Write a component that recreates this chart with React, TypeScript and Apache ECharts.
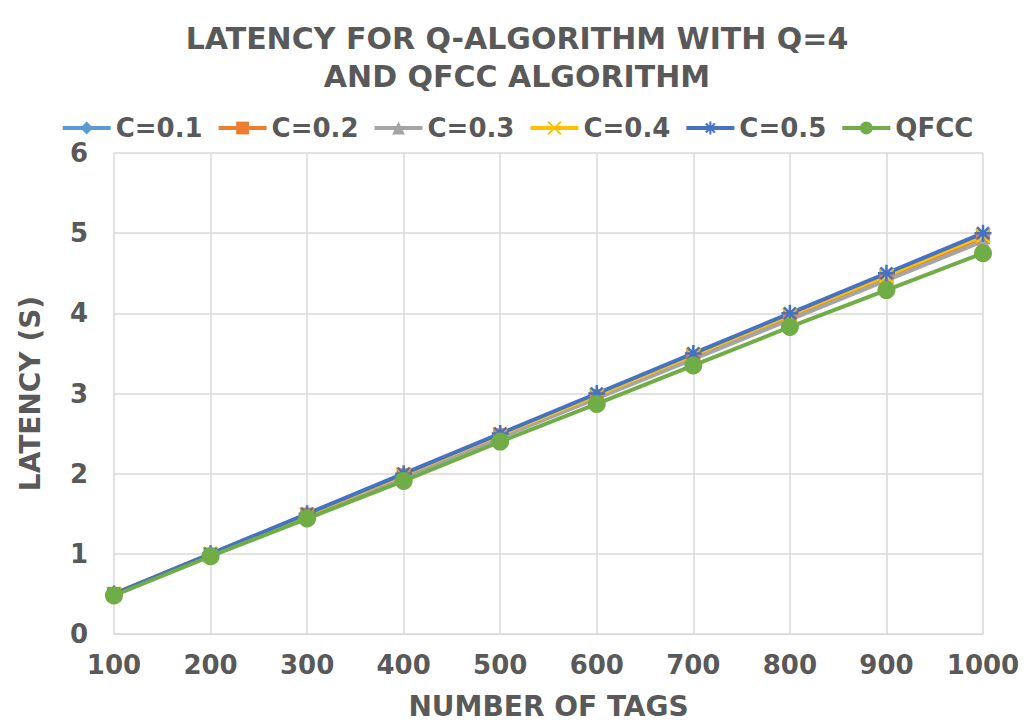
import React, { useEffect, useRef } from "react";
import * as echarts from "echarts";

const categories = ["100", "200", "300", "400", "500", "600", "700", "800", "900", "1000"];
const c01 = [0.49, 0.99, 1.48, 1.97, 2.47, 2.96, 3.45, 3.94, 4.43, 4.93];
const c02 = [0.5, 0.99, 1.49, 1.98, 2.48, 2.97, 3.46, 3.95, 4.45, 4.95];
const c03 = [0.49, 0.98, 1.47, 1.96, 2.45, 2.94, 3.43, 3.92, 4.41, 4.9];
const c04 = [0.5, 1.0, 1.49, 1.99, 2.49, 2.98, 3.48, 3.98, 4.47, 4.97];
const c05 = [0.5, 1.0, 1.5, 2.0, 2.5, 3.0, 3.5, 4.0, 4.5, 5.0];
const qfcc = [0.48, 0.97, 1.44, 1.91, 2.4, 2.87, 3.35, 3.83, 4.29, 4.75];
const yTicks = [0, 1, 2, 3, 4, 5, 6];

const FONT = "DejaVu Sans";
const TXT = "#595959";

const xPath = "path://M0 0L10 10M10 0L0 10";
const starPath = "path://M5 0L5 10M0 5L10 5M1.5 1.5L8.5 8.5M8.5 1.5L1.5 8.5";

export default function App() {
  const ref = useRef<HTMLDivElement>(null);
  useEffect(() => {
    const chart = echarts.init(ref.current!, null, { renderer: "svg" });
    const mk = (name: string, data: number[], color: string, symbol: string, size: number, stroke = false) => ({
      name,
      type: "line",
      data,
      symbol,
      symbolSize: size,
      showSymbol: true,
      lineStyle: { color, width: 4 },
      itemStyle: stroke
        ? { color: "rgba(0,0,0,0)", borderColor: color, borderWidth: 2.5 }
        : { color, borderWidth: 0 },
      emphasis: { disabled: true },
    });
    chart.setOption({
      animation: false,
      backgroundColor: "#ffffff",
      title: {
        text: "LATENCY FOR Q-ALGORITHM WITH Q=4\nAND QFCC ALGORITHM",
        left: "center",
        top: 14,
        textStyle: { fontFamily: FONT, fontWeight: "bold", fontSize: 30, color: TXT, lineHeight: 38 },
      },
      legend: {
        top: 110,
        left: "center",
        itemWidth: 48,
        itemHeight: 16,
        itemGap: 14,
        lineStyle: { width: 4 },
        textStyle: { fontFamily: FONT, fontWeight: "bold", fontSize: 26, color: TXT },
        data: ["C=0.1", "C=0.2", "C=0.3", "C=0.4", "C=0.5", "QFCC"],
      },
      graphic: [
        {
          type: "rect",
          shape: { x: 3, y: 3, width: 1027, height: 718 },
          style: { fill: "none", stroke: "#D9D9D9", lineWidth: 1 },
          silent: true,
        },
      ],
      grid: { left: 114, right: 51, top: 153, bottom: 89, containLabel: false },
      xAxis: {
        type: "category",
        data: categories,
        boundaryGap: false,
        name: "NUMBER OF TAGS",
        nameLocation: "middle",
        nameGap: 58,
        nameTextStyle: { fontFamily: FONT, fontWeight: "bold", fontSize: 28, color: TXT },
        axisLine: { show: true, lineStyle: { color: "#D9D9D9", width: 1 } },
        axisTick: { show: false },
        axisLabel: { fontFamily: FONT, fontWeight: "bold", fontSize: 26, color: TXT, margin: 18 },
        splitLine: { show: true, lineStyle: { color: "#D9D9D9", width: 1.5 } },
      },
      yAxis: {
        type: "value",
        min: yTicks[0],
        max: yTicks[yTicks.length - 1],
        interval: 1,
        name: "LATENCY (S)",
        nameLocation: "middle",
        nameGap: 70,
        nameTextStyle: { fontFamily: FONT, fontWeight: "bold", fontSize: 28, color: TXT },
        axisLine: { show: false },
        axisTick: { show: false },
        axisLabel: { fontFamily: FONT, fontWeight: "bold", fontSize: 26, color: TXT, margin: 26 },
        splitLine: { show: true, lineStyle: { color: "#D9D9D9", width: 1.5 } },
      },
      series: [
        mk("C=0.1", c01, "#5B9BD5", "diamond", 15),
        mk("C=0.2", c02, "#ED7D31", "rect", 14),
        mk("C=0.3", c03, "#A5A5A5", "triangle", 14),
        mk("C=0.4", c04, "#FFC000", xPath, 14, true),
        mk("C=0.5", c05, "#4472C4", starPath, 17, true),
        mk("QFCC", qfcc, "#70AD47", "circle", 18),
      ],
    });
    return () => chart.dispose();
  }, []);
  return <div ref={ref} style={{ width: 1034, height: 725, margin: -8 }} />;
}
